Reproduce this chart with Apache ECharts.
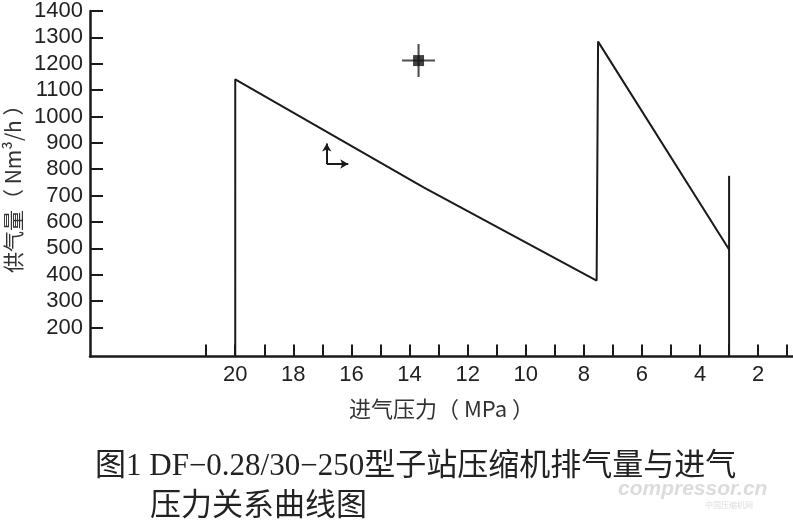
<!DOCTYPE html>
<html>
<head>
<meta charset="utf-8">
<script src="https://cdn.jsdelivr.net/npm/echarts@6/dist/echarts.min.js"></script>
<style>
html,body{margin:0;padding:0;background:#fff;}
#chart{width:793px;height:520px;}
</style>
</head>
<body>
<div id="chart"></div>
<script>
// ---- data ----
const xTickValues = [21,20,19,18,17,16,15,14,13,12,11,10,9,8,7,6,5,4,3,2,1];
const xLabelValues = [20,18,16,14,12,10,8,6,4,2];
const yTickValues = [200,300,400,500,600,700,800,900,1000,1100,1200,1300,1400];

const mainPressure = [20, 20, 13.5, 7.56, 7.51, 3];
const mainFlow     = [90, 1141, 730, 378, 1284, 496];

const limitPressure = [3, 3];
const limitFlow     = [90, 775];

const markerPressure = [13.69];
const markerFlow     = [1212];

const arrowPressure = [16.85, 16.11];  // origin, end of horizontal arrow
const arrowFlow     = [820, 898];      // origin, end of vertical arrow

const captionLine1 = '图1 DF\u22120.28/30\u2212250型子站压缩机排气量与进气';
const captionLine2 = '压力关系曲线图';
const xName = '进气压力（ MPa ）';
const yName = '供气量（ Nm³/h ）';

// ---- build ----
const zip = (a, b) => a.map((v, i) => [v, b[i]]);
const ink = '#1a1a1a';
const labelFont = "'Liberation Sans', Arial, sans-serif";
const cjkFont = "'Noto Sans CJK SC', sans-serif";
const captionFont = "'Liberation Serif', 'Noto Sans CJK SC', serif";
const plain = v => String(v);

const chart = echarts.init(document.getElementById('chart'), null, {renderer: 'canvas'});
chart.setOption({
  animation: false,
  backgroundColor: '#fff',
  title: [
    {text: captionLine1, left: 95, top: 451, padding: 0,
     textStyle: {fontFamily: captionFont, fontSize: 31, fontWeight: 'normal', color: '#222', lineHeight: 31}},
    {text: captionLine2, left: 150, top: 491, padding: 0,
     textStyle: {fontFamily: captionFont, fontSize: 31, fontWeight: 'normal', color: '#222', lineHeight: 31}}
  ],
  graphic: [
    {type: 'text', left: 618, top: 479, silent: true,
     style: {text: 'compressor.cn', font: 'italic bold 21px "Liberation Sans", sans-serif', fill: '#dcdcdc'}},
    {type: 'text', left: 705, top: 501, silent: true,
     style: {text: '中国压缩机网', font: '8px "Noto Sans CJK SC", sans-serif', fill: '#dcdcdc'}}
  ],
  grid: {left: 90, right: 0, top: 11, bottom: 163.5, containLabel: false, outerBoundsMode: 'none'},
  xAxis: {
    type: 'value', min: 0.8, max: 25, inverse: true,
    name: xName, nameLocation: 'middle', nameGap: 41,
    nameTextStyle: {fontFamily: cjkFont, fontSize: 22, color: '#333'},
    axisLine: {show: true, onZero: false, lineStyle: {color: ink, width: 2.5}},
    axisTick: {show: true, inside: true, length: 12, customValues: xTickValues, lineStyle: {color: ink, width: 2}},
    axisLabel: {show: true, customValues: xLabelValues, formatter: plain, fontFamily: labelFont, fontSize: 22, color: '#222', margin: 7},
    splitLine: {show: false}
  },
  yAxis: {
    type: 'value', min: 90, max: 1400,
    name: yName, nameLocation: 'middle', nameGap: 66, nameRotate: 90,
    nameTextStyle: {fontFamily: cjkFont, fontSize: 21, color: '#333'},
    axisLine: {show: true, onZero: false, lineStyle: {color: ink, width: 2.5}},
    axisTick: {show: true, inside: true, length: 13, customValues: yTickValues, lineStyle: {color: ink, width: 2}},
    axisLabel: {show: true, customValues: yTickValues, formatter: plain, fontFamily: labelFont, fontSize: 22, color: '#222', margin: 7},
    splitLine: {show: false}
  },
  series: [
    {type: 'line', data: zip(mainPressure, mainFlow), symbol: 'none', clip: false,
     lineStyle: {color: ink, width: 2}},
    {type: 'line', data: zip(limitPressure, limitFlow), symbol: 'none', clip: false,
     lineStyle: {color: ink, width: 2}},
    {type: 'scatter', data: zip(markerPressure, markerFlow),
     symbol: 'path://M15,0H17V15H32V17H17V32H15V17H0V15H15Z', symbolSize: 33,
     itemStyle: {color: '#222'}},
    {type: 'scatter', data: zip(markerPressure, markerFlow),
     symbol: 'rect', symbolSize: 11, itemStyle: {color: '#111'},
     markLine: {
       silent: true, symbol: ['none', 'arrow'], symbolSize: [7, 8],
       label: {show: false},
       lineStyle: {color: ink, width: 2, type: 'solid'},
       data: [
         [{coord: [arrowPressure[0], arrowFlow[0]]}, {coord: [arrowPressure[0], arrowFlow[1]]}],
         [{coord: [arrowPressure[0], arrowFlow[0]]}, {coord: [arrowPressure[1], arrowFlow[0]]}]
       ]
     }}
  ]
});
</script>
</body>
</html>
